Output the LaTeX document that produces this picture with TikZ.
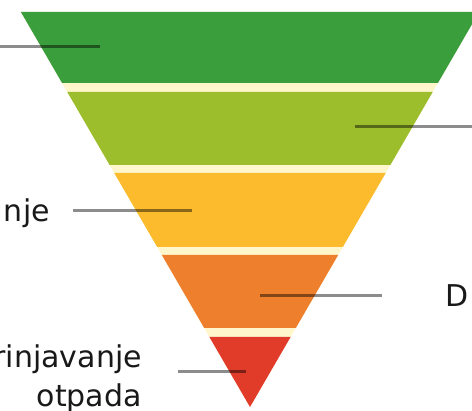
\documentclass[tikz,border=0pt]{standalone}
\usepackage{fontspec}
\setmainfont{DejaVu Sans}
\usetikzlibrary{calc,positioning}
\definecolor{bandA}{HTML}{3A9E3C}
\definecolor{bandB}{HTML}{9CBE2C}
\definecolor{bandC}{HTML}{FBBB2D}
\definecolor{bandD}{HTML}{EE7F2C}
\definecolor{bandE}{HTML}{E13B2A}
\definecolor{gapcol}{HTML}{FFF6CC}
\tikzstyle{lbltext} = [inner sep=0pt, font=\fontsize{30}{39}\selectfont, text=black!90, align=right]
\tikzstyle{leader} = [draw=black, opacity=0.45, line width=3pt]

\begin{document}
\begin{tikzpicture}[x=1pt,y=-1pt]
    \useasboundingbox (0,0) rectangle (472,411);
    \clip (0,0) rectangle (472,411);
    \coordinate (apex) at (250,407);
    % pale strips between the layers
    \fill[gapcol] ({250-0.58*395},12) -- ({250+0.58*395},12) -- (apex) -- cycle;
    \foreach \t/\b/\c/\n in {12/83/bandA/b1, 92/165/bandB/b2, 173/247/bandC/b3, 255/328/bandD/b4, 337/407/bandE/b5} {
        \fill[\c] ({250-0.58*(407-\t)},\t) -- ({250+0.58*(407-\t)},\t) -- ({250+0.58*(407-\b)},\b) -- ({250-0.58*(407-\b)},\b) -- cycle;
        \coordinate (\n) at (250,{(\t+\b)/2});
    }

    \node (nje) [lbltext, anchor=base east] at (50,222) {nje};
    \node (dlbl) [lbltext, anchor=base west] at (445,307) {D};
    \node (otpada) [lbltext, anchor=base east] at (142,407) {rinjavanje\\otpada};

    \coordinate (l1a) at (0,47);    \coordinate (l1b) at (100,47);
    \coordinate (l2a) at (355,127); \coordinate (l2b) at (472,127);
    \coordinate (l3a) at (73,211);  \coordinate (l3b) at (192,211);
    \coordinate (l4a) at (260,296); \coordinate (l4b) at (382,296);
    \coordinate (l5a) at (178,372); \coordinate (l5b) at (246,372);
    \draw[leader] (l1a) -- (l1b);
    \draw[leader] (l2a) -- (l2b);
    \draw[leader] (l3a) -- (l3b);
    \draw[leader] (l4a) -- (l4b);
    \draw[leader] (l5a) -- (l5b);
\end{tikzpicture}
\end{document}
